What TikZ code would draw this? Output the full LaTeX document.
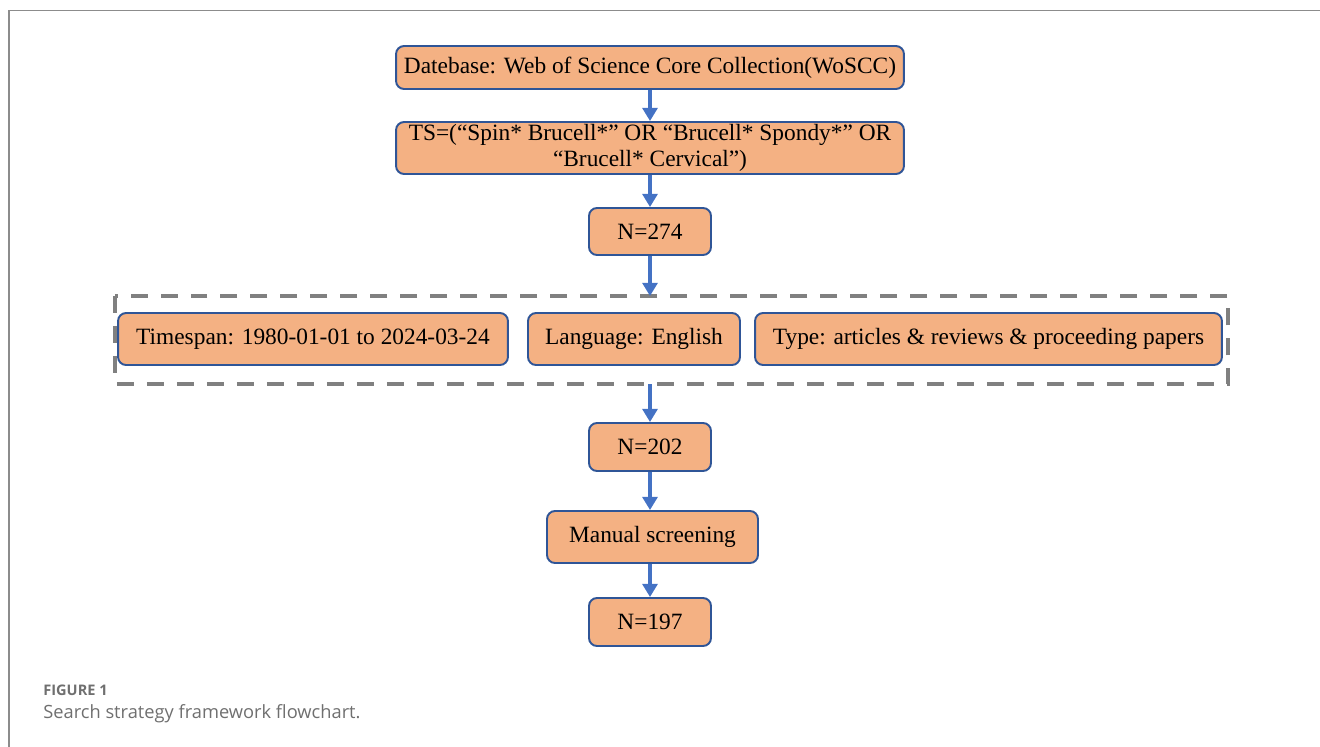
\documentclass[tikz,border=0pt]{standalone}
\usepackage{fontspec}
\setmainfont{Liberation Serif}
\newfontfamily\capfont{Open Sans}
\usepackage{xcolor}
\usetikzlibrary{arrows.meta}

\definecolor{boxfill}{HTML}{F4B183}
\definecolor{boxline}{HTML}{2F5597}
\definecolor{flow}{HTML}{4472C4}
\definecolor{capgray}{HTML}{6F6F6F}

\begin{document}
\begin{tikzpicture}[x=0.02cm, y=-0.02cm,
  box/.style={draw=boxline, line width=1.1pt, fill=boxfill, rounded corners=0.16cm,
    inner sep=0pt, align=center, font=\fontsize{13.3}{14.5}\selectfont},
  flowarrow/.style={->, >={Triangle[length=7.5pt,width=8.5pt]}, draw=flow, line width=2.3pt}]
  \useasboundingbox (0,0) rectangle (1320,747);
  % frame
  \draw[color=black!45, line width=0.6pt] (9,747) -- (9,10.5) -- (1320,10.5);

  \node[box, minimum width=10.16cm, minimum height=0.86cm] (db) at (650,67.5)
    {Datebase: Web of Science Core Collection(WoSCC)};
  \node[box, minimum width=10.16cm, minimum height=1.04cm] (query) at (650,148)
    {TS=(“Spin* Brucell*” OR “Brucell* Spondy*” OR\\ “Brucell* Cervical”)};
  \node[box, minimum width=2.44cm, minimum height=0.94cm] (n274) at (650,231.5) {N=274};

  % filters
  \draw[color=black!50, line width=2.8pt, dash pattern=on 0.34cm off 0.26cm]
    (115,296) rectangle (1228,384);
  \coordinate (filtertop) at (650,296);
  \coordinate (filterbot) at (650,384);
  \node[box, minimum width=7.8cm, minimum height=1.04cm] (timespan) at (313,339)
    {Timespan: 1980-01-01 to 2024-03-24};
  \node[box, minimum width=4.24cm, minimum height=1.04cm] (lang) at (634,339)
    {Language: English};
  \node[box, minimum width=9.34cm, minimum height=1.04cm] (doctype) at (988.5,339)
    {Type: articles \& reviews \& proceeding papers};

  \node[box, minimum width=2.44cm, minimum height=0.96cm] (n202) at (650,447) {N=202};
  \node[box, minimum width=4.22cm, minimum height=1.04cm] (manual) at (652.5,537)
    {Manual screening};
  \node[box, minimum width=2.44cm, minimum height=0.96cm] (n197) at (650,622) {N=197};

  \draw[flowarrow] (db) -- (query);
  \draw[flowarrow] (query) -- (n274);
  \draw[flowarrow] (n274) -- (filtertop);
  \draw[flowarrow] (filterbot) -- (n202);
  \draw[flowarrow] (n202) -- (n202 |- manual.north);
  \draw[flowarrow] (manual.south -| n197) -- (n197);

  % caption
  \node[anchor=base west, inner sep=0pt, text=capgray, font=\capfont\bfseries\fontsize{8.3}{10}\selectfont]
    (figlabel) at (43,695) {FIGURE 1};
  \node[anchor=base west, inner sep=0pt, text=capgray, font=\capfont\fontsize{10.4}{12}\selectfont]
    (figtitle) at (43,718) {Search strategy framework flowchart.};
\end{tikzpicture}
\end{document}
